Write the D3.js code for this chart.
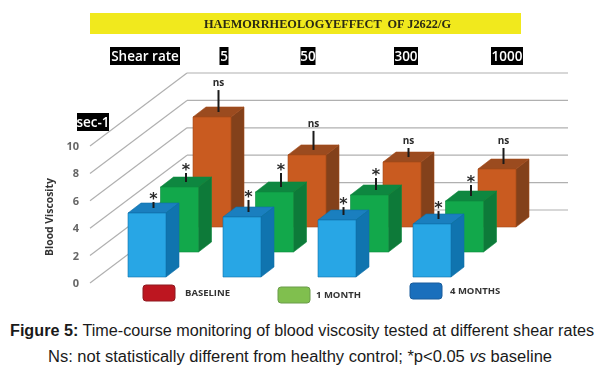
<!DOCTYPE html>
<html>
<head>
<meta charset="utf-8">
<script src="https://cdnjs.cloudflare.com/ajax/libs/d3/7.8.5/d3.min.js"></script>
<style>
    html, body { margin: 0; padding: 0; background: #fff; }
    svg { display: block; }
    .soft { filter: blur(0.45px); }
</style>
</head>
<body>
<svg width="608" height="374"></svg>
<script>
const shearRates = ["5", "50", "300", "1000"];
const seriesNames = ["BASELINE", "1 MONTH", "4 MONTHS"];
const yTicks = [0, 2, 4, 6, 8, 10];

// bar heights
const baseline = [8.03, 5.26, 4.74, 4.23];
const oneMonth = [4.74, 4.38, 4.16, 3.72];
const fourMonths = [4.67, 4.38, 4.16, 3.87];

// whisker lengths above each bar
const baselineErr = [1.6, 1.39, 0.66, 1.17];
const oneMonthErr = [0.66, 1.02, 0.88, 0.8];
const fourMonthsErr = [0.44, 0.88, 0.58, 0.58];

const baselineMark = "ns";
const changedMark = "*";

const svg = d3.select("svg");
const chart = svg.append("g").attr("class", "soft");

const barWidth = 38;
const barDepthX = 13;
const barDepthY = 10;

// a bar stands in a 3d box: band along x, value up, series goes to the back
const x = d3.scalePoint().domain(shearRates).range([128, 413]);
const y = d3.scaleLinear().domain([0, 10]).range([0, -137]);
const depthX = d3.scalePoint().domain(seriesNames.slice().reverse()).range([0, 65]);
const depthY = d3.scalePoint().domain(seriesNames.slice().reverse()).range([277, 227]);

// header
chart.append("rect")
    .attr("x", 90).attr("y", 13).attr("width", 431).attr("height", 21)
    .attr("fill", "#f1e91d");
chart.append("text")
    .attr("x", 204).attr("y", 28)
    .attr("font-family", "Liberation Serif")
    .attr("font-weight", "bold")
    .attr("font-size", 12.3)
    .attr("fill", "#2a2a14")
    .attr("xml:space", "preserve")
    .text("HAEMORRHEOLOGYEFFECT  OF J2622/G");

function blackLabel(text, cx, cy, w) {
    chart.append("rect")
        .attr("x", cx - w / 2).attr("y", cy - 9)
        .attr("width", w).attr("height", 18)
        .attr("fill", "#000");
    chart.append("text")
        .attr("x", cx).attr("y", cy + 4.5)
        .attr("text-anchor", "middle")
        .attr("font-family", "Open Sans")
        .attr("font-weight", 600)
        .attr("font-size", 13.5)
        .attr("fill", "#fff")
        .text(text);
}

const rateLabelX = d3.scaleOrdinal(shearRates, [224, 308, 406, 507]);
const rateLabelW = d3.scaleOrdinal(shearRates, [9, 15, 24, 32]);
blackLabel("Shear rate", 145, 56, 70);
shearRates.forEach(r => blackLabel(r, rateLabelX(r), 56, rateLabelW(r)));
blackLabel("sec-1", 93, 122, 32);

// walls
const wall = chart.append("g").attr("fill", "none").attr("stroke", "#b0b0b0").attr("stroke-width", 1.2);
yTicks.forEach(t => {
    const yFront = 283 + y(t);
    const yBack = 210 + y(t);
    wall.append("line")
        .attr("x1", 90).attr("y1", yFront)
        .attr("x2", 187).attr("y2", yBack);
    wall.append("line")
        .attr("x1", 187).attr("y1", yBack)
        .attr("x2", 568).attr("y2", yBack);
});

// value axis
const yAxisScale = d3.scaleLinear().domain([0, 10]).range([283, 146]);
const axis = chart.append("g")
    .attr("transform", "translate(79,0)")
    .call(d3.axisLeft(yAxisScale).tickValues(yTicks).tickSize(0).tickPadding(0));
axis.select(".domain").remove();
axis.selectAll("text")
    .attr("font-family", "Open Sans")
    .attr("font-weight", 700)
    .attr("font-size", 11)
    .attr("fill", "#666");

chart.append("text")
    .attr("transform", "translate(52.5,217) rotate(-90)")
    .attr("text-anchor", "middle")
    .attr("font-family", "Open Sans")
    .attr("font-weight", 700)
    .attr("font-size", 10.4)
    .attr("fill", "#333")
    .text("Blood Viscosity");

// bars, back row first
const rows = [
    {name: seriesNames[0], values: baseline, errs: baselineErr, mark: baselineMark, front: "#c95b20", side: "#83411b", top: "#9b4b1f", edge: "#a34a1a"},
    {name: seriesNames[1], values: oneMonth, errs: oneMonthErr, mark: changedMark, front: "#12a84b", side: "#0d7a39", top: "#0e8740", edge: "#0d8a3e"},
    {name: seriesNames[2], values: fourMonths, errs: fourMonthsErr, mark: changedMark, front: "#28a6e5", side: "#1074af", top: "#1a7fbf", edge: "#0f6ea8"}
];

function poly(g, pts, fill, edge) {
    g.append("polygon")
        .attr("points", pts.map(p => p.join(",")).join(" "))
        .attr("fill", fill)
        .attr("stroke", edge)
        .attr("stroke-width", 0.6);
}

rows.forEach(row => {
    const g = chart.append("g");
    shearRates.forEach((rate, i) => {
        const left = x(rate) + depthX(row.name);
        const base = depthY(row.name);
        const top = base + y(row.values[i]);
        const right = left + barWidth;

        poly(g, [[left, top], [left + barDepthX, top - barDepthY], [right + barDepthX, top - barDepthY], [right, top]], row.top, row.edge);
        poly(g, [[right, top], [right + barDepthX, top - barDepthY], [right + barDepthX, base - barDepthY], [right, base]], row.side, row.edge);
        poly(g, [[left, top], [right, top], [right, base], [left, base]], row.front, row.edge);

        // whisker from the middle of the top face
        const wx = left + barWidth / 2 + barDepthX / 2;
        const wy = top - barDepthY / 2;
        const wTop = wy + y(row.errs[i]);
        g.append("line")
            .attr("x1", wx).attr("y1", wy)
            .attr("x2", wx).attr("y2", wTop)
            .attr("stroke", "#1a1a1a")
            .attr("stroke-width", 2);
        g.append("text")
            .attr("x", wx)
            .attr("y", row.mark === "ns" ? wTop - 4 : wTop + 2)
            .attr("text-anchor", "middle")
            .attr("font-family", row.mark === "ns" ? "Open Sans" : "DejaVu Sans")
            .attr("font-weight", 700)
            .attr("font-size", row.mark === "ns" ? 10 : 16)
            .attr("fill", "#2a2a2a")
            .text(row.mark);
    });
});

// legend
const legendX = d3.scaleOrdinal(seriesNames, [143, 278, 410]);
const legendY = d3.scaleOrdinal(seriesNames, [285, 287, 283]);
const legendFill = d3.scaleOrdinal(seriesNames, ["#bd1620", "#80bf4e", "#1a6fbc"]);
const legendEdge = d3.scaleOrdinal(seriesNames, ["#8e1a20", "#6a9c4a", "#1a5d9c"]);
const legendTextX = d3.scaleOrdinal(seriesNames, [185, 316, 450]);

seriesNames.forEach(name => {
    chart.append("rect")
        .attr("x", legendX(name)).attr("y", legendY(name))
        .attr("width", 32).attr("height", 16).attr("rx", 3)
        .attr("fill", legendFill(name))
        .attr("stroke", legendEdge(name));
    chart.append("text")
        .attr("x", legendTextX(name)).attr("y", legendY(name) + 11)
        .attr("font-family", "Open Sans")
        .attr("font-weight", 700)
        .attr("font-size", 9.5)
        .attr("fill", "#333")
        .text(name);
});

// caption
const cap1 = svg.append("text")
    .attr("x", 10).attr("y", 336)
    .attr("textLength", 584)
    .attr("lengthAdjust", "spacingAndGlyphs")
    .attr("font-family", "Liberation Sans")
    .attr("font-size", 16)
    .attr("fill", "#1a1a1a");
cap1.append("tspan").attr("font-weight", "bold").text("Figure 5:");
cap1.append("tspan").text(" Time-course monitoring of blood viscosity tested at different shear rates");

const cap2 = svg.append("text")
    .attr("x", 48).attr("y", 362)
    .attr("textLength", 504)
    .attr("lengthAdjust", "spacingAndGlyphs")
    .attr("font-family", "Liberation Sans")
    .attr("font-size", 16)
    .attr("fill", "#1a1a1a");
cap2.append("tspan").text("Ns: not statistically different from healthy control; *p<0.05 ");
cap2.append("tspan").attr("font-style", "italic").text("vs");
cap2.append("tspan").text(" baseline");
</script>
</body>
</html>
